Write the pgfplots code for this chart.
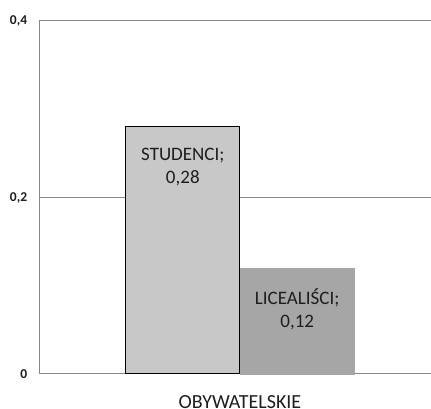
\documentclass[border=0pt]{standalone}
\usepackage{pgfplots}
\pgfplotsset{compat=1.18}
\usepackage{fontspec}
\setmainfont{Carlito}
\definecolor{axgray}{HTML}{888888}
\definecolor{barA}{HTML}{C8C8C8}
\definecolor{barB}{HTML}{A6A6A6}
\definecolor{txt}{HTML}{1E1E1E}
\begin{document}
\begin{tikzpicture}
\path[use as bounding box] (-39.3pt,-35pt) rectangle (391.7pt,374pt);
\clip (-39.3pt,-35pt) rectangle (391.7pt,374pt);
\begin{axis}[
  scale only axis,
  width=400pt, height=353pt,
  xmin=0, xmax=400, ymin=0, ymax=0.4,
  axis line style={axgray, line width=1pt},
  ytick={0,0.2,0.4},
  yticklabels={0,{0,2},{0,4}},
  xtick={200.7},
  xticklabels={OBYWATELSKIE},
  major tick length=0pt,
  ymajorgrids,
  grid style={axgray, line width=1pt},
  yticklabel style={font=\fontsize{13.5}{15}\selectfont\bfseries, text=txt, anchor=east, inner sep=0pt, xshift=-12pt},
  xticklabel style={font=\fontsize{20}{24}\selectfont, text=txt, anchor=base, inner sep=0pt, yshift=-35pt},
  clip=false,
  every node near coord/.append style={font=\fontsize{19}{23}\selectfont, text=txt, anchor=north, align=center, inner sep=0pt, yshift=-20.5pt},
]
\addplot[ybar, bar width=114.3, fill=barA, draw=black, line width=1pt,
  nodes near coords={STUDENCI;\\0,28}] coordinates {(143.5,0.28)};
\addplot[ybar, bar width=114.3, fill=barB, draw=barB, line width=0.5pt,
  nodes near coords={LICEALIŚCI;\\0,12}] coordinates {(257.9,0.12)};
\end{axis}
\end{tikzpicture}
\end{document}
